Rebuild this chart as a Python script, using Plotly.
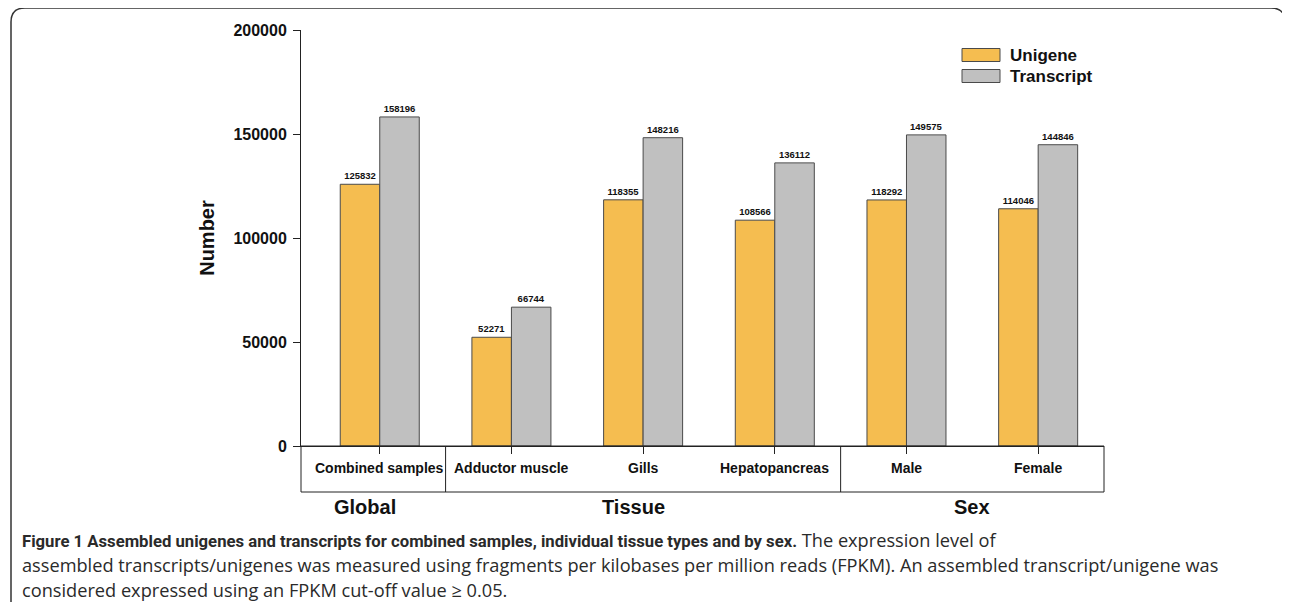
import plotly.graph_objects as go

categories = ["Combined samples", "Adductor muscle", "Gills", "Hepatopancreas", "Male", "Female"]
unigene = [125832, 52271, 118355, 108566, 118292, 114046]
transcript = [158196, 66744, 148216, 136112, 149575, 144846]
series_names = ["Unigene", "Transcript"]
groups = ["Global", "Tissue", "Sex"]
group_pos = [-0.11, 1.93, 4.5]
dividers = [0.5, 3.5]
y_ticks = [0, 50000, 100000, 150000, 200000]
caption_bold = "Figure 1 Assembled unigenes and transcripts for combined samples, individual tissue types and by sex."
caption_lines = [
    " The expression level of",
    "assembled transcripts/unigenes was measured using fragments per kilobases per million reads (FPKM). An assembled transcript/unigene was",
    "considered expressed using an FPKM cut-off value \u2265 0.05.",
]

# page geometry (body has an 8px margin on every side in the browser)
OFF = 8
W, H = 1290, 610
L, R, T, B = 301, 1104, 30, 446
FIG_W, FIG_H = W - 2 * OFF, H - 2 * OFF


def xp(px):
    return (px - L) / (R - L)


def yp(py):
    return (B - py) / (B - T)


FONT = "Liberation Sans, Arial, sans-serif"
colors = ["#F5BD50", "#C0C0C0"]
xs = list(range(len(categories)))

fig = go.Figure()
for name, vals, col in zip(series_names, [unigene, transcript], colors):
    fig.add_trace(go.Bar(
        x=xs, y=vals, name=name,
        marker=dict(color=col, line=dict(color="#4a4a4a", width=1)),
        texttemplate="<b>%{y:d}</b>", textposition="outside",
        textfont=dict(family=FONT, size=9.5, color="#111"),
        cliponaxis=False, showlegend=False,
    ))

fig.update_layout(
    width=FIG_W, height=FIG_H,
    margin=dict(l=L - OFF, r=(OFF + FIG_W) - R, t=T - OFF, b=(OFF + FIG_H) - B, pad=0),
    paper_bgcolor="white", plot_bgcolor="white",
    barmode="group", bargap=0.4, bargroupgap=0,
    font=dict(family=FONT, color="#111"),
)
fig.update_xaxes(
    range=[-0.598, 5.5], showgrid=False, zeroline=False,
    showline=True, linecolor="#222", linewidth=1,
    tickvals=xs, ticks="outside", ticklen=7, tickcolor="#222",
    showticklabels=False,
)
fig.update_yaxes(
    range=[0, 200000], showgrid=False, zeroline=False,
    showline=True, linecolor="#222", linewidth=1,
    tickvals=y_ticks, ticktext=[f"<b>{v}</b>" for v in y_ticks],
    ticks="outside", ticklen=7, tickcolor="#222", ticklabelstandoff=3,
    tickfont=dict(size=16, family=FONT),
    title=dict(text="<b>Number</b>", font=dict(size=20, family=FONT), standoff=13),
)

shapes = []
shapes.append(dict(type="rect", xref="paper", yref="paper",
                   x0=0, x1=1, y0=yp(492), y1=0,
                   line=dict(color="#222", width=1)))
for d in dividers:
    shapes.append(dict(type="line", xref="x", yref="paper",
                       x0=d, x1=d, y0=yp(492), y1=0,
                       line=dict(color="#222", width=1)))

leg_y = [55, 76]
for name, col, yy in zip(series_names, colors, leg_y):
    shapes.append(dict(type="rect", xref="paper", yref="paper",
                       x0=xp(962), x1=xp(1000), y0=yp(yy + 6.5), y1=yp(yy - 6.5),
                       fillcolor=col, line=dict(color="#4a4a4a", width=1)))

# outer rounded frame (right and bottom sides fall outside the page)
fx0, fx1, fy0, fy1, r = 11, 1285, 8, 640, 14
path = (f"M {xp(fx0 + r)},{yp(fy0)} L {xp(fx1 - r)},{yp(fy0)} "
        f"Q {xp(fx1)},{yp(fy0)} {xp(fx1)},{yp(fy0 + r)} "
        f"L {xp(fx1)},{yp(fy1 - r)} Q {xp(fx1)},{yp(fy1)} {xp(fx1 - r)},{yp(fy1)} "
        f"L {xp(fx0 + r)},{yp(fy1)} Q {xp(fx0)},{yp(fy1)} {xp(fx0)},{yp(fy1 - r)} "
        f"L {xp(fx0)},{yp(fy0 + r)} Q {xp(fx0)},{yp(fy0)} {xp(fx0 + r)},{yp(fy0)} Z")
shapes.append(dict(type="path", xref="paper", yref="paper", path=path,
                   line=dict(color="#333", width=1.5)))

annotations = []
for i, c in enumerate(categories):
    annotations.append(dict(x=i, xref="x", y=yp(468), yref="paper", text=f"<b>{c}</b>",
                            showarrow=False, font=dict(size=14, family=FONT),
                            xanchor="center", yanchor="middle"))
for g, gx in zip(groups, group_pos):
    annotations.append(dict(x=gx, xref="x", y=yp(507), yref="paper", text=f"<b>{g}</b>",
                            showarrow=False, font=dict(size=20, family=FONT),
                            xanchor="center", yanchor="middle"))
for name, yy in zip(series_names, leg_y):
    annotations.append(dict(x=xp(1008), xref="paper", y=yp(yy), yref="paper", text=f"<b>{name}</b>",
                            showarrow=False, font=dict(size=17, family=FONT),
                            xanchor="left", yanchor="middle"))

cap_font = "Open Sans, Noto Sans, sans-serif"
bold_span = f"<span style='font-family:Roboto, sans-serif;font-size:16.7px'><b>{caption_bold}</b></span>"
texts = [bold_span + caption_lines[0], caption_lines[1], caption_lines[2]]
for line, yy in zip(texts, [540, 565, 590]):
    annotations.append(dict(x=xp(20), xref="paper", y=yp(yy), yref="paper", text=line,
                            showarrow=False, font=dict(size=18.2, family=cap_font, color="#2a2a2a"),
                            xanchor="left", yanchor="middle", align="left"))

fig.update_layout(shapes=shapes, annotations=annotations)
fig.write_html("out.html")
